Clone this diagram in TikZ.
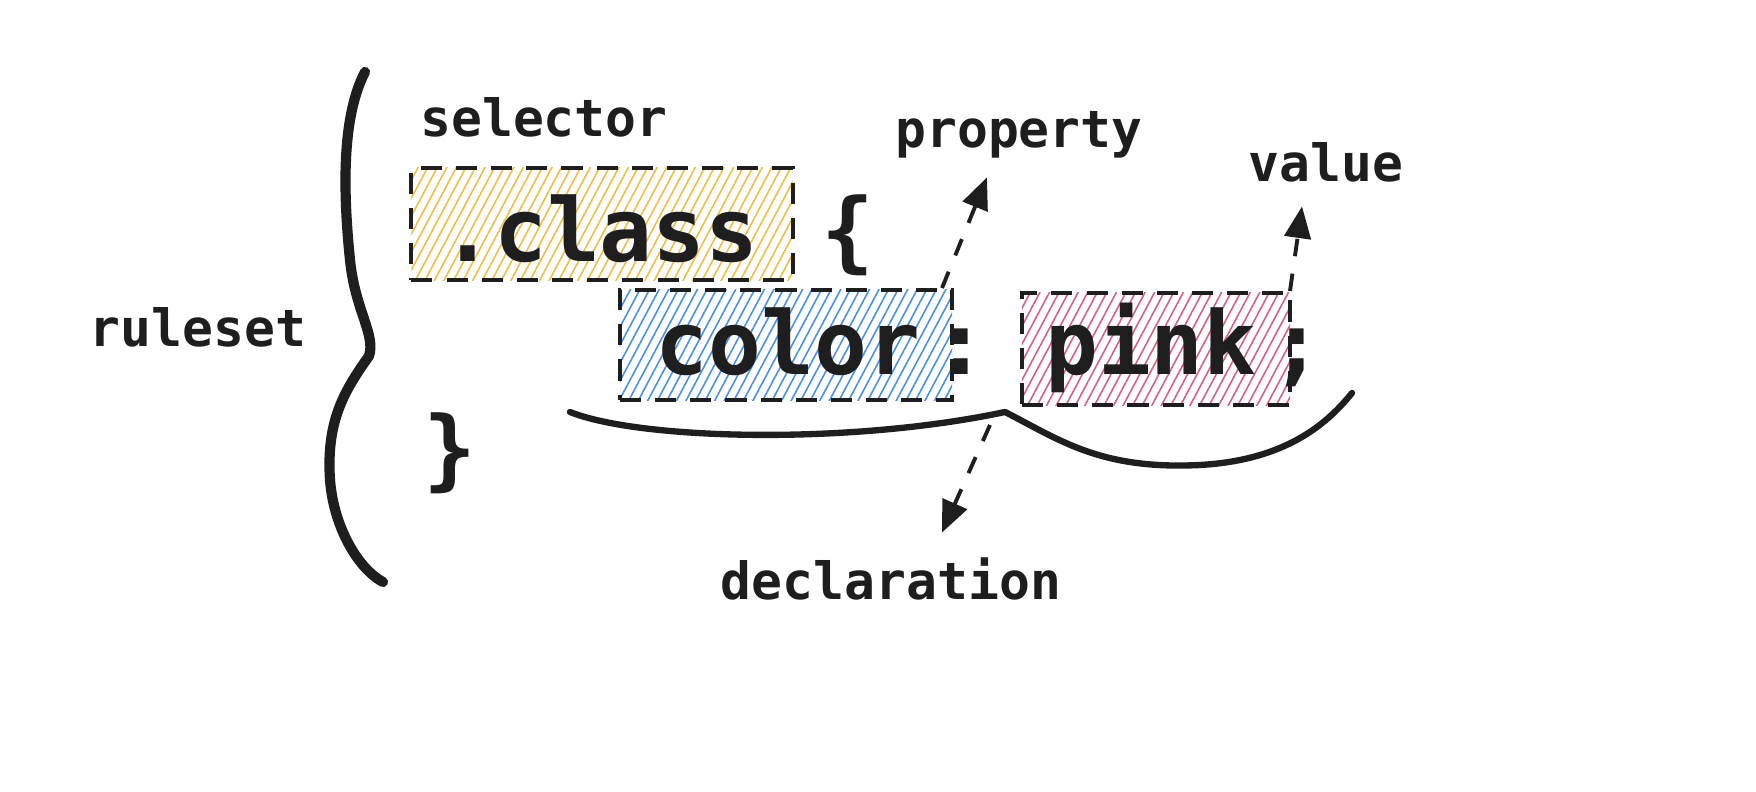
\documentclass[tikz,border=0pt]{standalone}
\usepackage{fontspec}
\setmonofont{DejaVu Sans Mono}
\usetikzlibrary{arrows.meta, patterns.meta, calc}

\definecolor{ink}{RGB}{30,30,30}
\definecolor{classfill}{RGB}{240,190,70}
\definecolor{propfill}{RGB}{74,144,226}
\definecolor{valfill}{RGB}{212,96,138}

\tikzset{
  tag/.style={font=\ttfamily\bfseries\fontsize{14.6}{16}\selectfont, text=ink, inner sep=0pt, anchor=base},
  code/.style={font=\ttfamily\bfseries\fontsize{25}{30}\selectfont, text=ink, inner sep=0pt, anchor=base},
  hatchbox/.style={draw=ink, line width=1.1pt, dash pattern=on 6pt off 4pt,
    pattern={Lines[angle=62,distance=2.4pt,line width=0.45pt]}, pattern color=#1, inner sep=0pt},
  pointer/.style={ink, line width=1.1pt, dash pattern=on 5pt off 5pt, -{Triangle[length=9pt,width=7.5pt]}},
  curly/.style={ink, line width=2.4pt, line cap=round, line join=round},
}

\begin{document}
\begin{tikzpicture}[x=0.01cm, y=-0.01cm]

	% canvas
	\fill[white] (0,0) rectangle (1756,792);
	\useasboundingbox (0,0) rectangle (1756,792);

	% hatched boxes
	\node[hatchbox=classfill, minimum width=3.81cm, minimum height=1.12cm] (classbox) at (602,224) {};
	\node[hatchbox=propfill, minimum width=3.32cm, minimum height=1.10cm] (colorbox) at (786,345) {};
	\node[hatchbox=valfill, minimum width=2.68cm, minimum height=1.12cm] (pinkbox) at (1156,349) {};

	% code
	\node[code] (class) at (600,262) {.class};
	\node[code] (open) at (848,262) {\{};
	\node[code] (color) at (788,375) {color};
	\node[code] (colon) at (961,375) {:};
	\node[code] (pink) at (1151,375) {pink};
	\node[code] (semi) at (1297,375) {;};
	\node[code] (close) at (450,480) {\}};

	% labels
	\node[tag] (ruleset) at (198,347) {ruleset};
	\node[tag] (selector) at (544,137) {selector};
	\node[tag] (property) at (1019,148) {property};
	\node[tag] (value) at (1326,182) {value};
	\node[tag] (declaration) at (891,600) {declaration};

	% braces
	\draw[curly, line width=2.9pt] (365,72) .. controls (340,120) and (344,200) .. (350,260)
		.. controls (355,310) and (376,335) .. (369,356)
		.. controls (345,390) and (326,420) .. (330,480)
		.. controls (334,530) and (360,570) .. (383,582);
	\draw[curly, line width=1.8pt] (570,412) .. controls (640,440) and (850,445) .. (1005,412)
		.. controls (1060,440) and (1100,470) .. (1200,465)
		.. controls (1290,460) and (1330,420) .. (1352,393);
	\coordinate (bracetip) at (990,425);

	% pointers
	\draw[pointer] ($(colorbox.north east)+(-12,0)$) -- ($(property.south)+(-32,18)$);
	\draw[pointer] ($(pinkbox.north east)+(-2,0)$) -- ($(value.south)+(-24,23)$);
	\draw[pointer] (bracetip) -- ($(declaration.north)+(51,-25)$);

\end{tikzpicture}
\end{document}
